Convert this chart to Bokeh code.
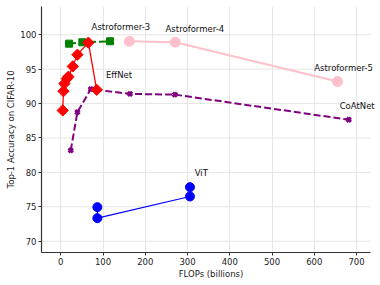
import numpy as np
from bokeh.plotting import figure
from bokeh.models import Range1d, FixedTicker, Label
from bokeh.embed import file_html
from bokeh.resources import INLINE

# ---- data ----
effnet_x = [4.7, 6.3, 8.7, 14.2, 18.0, 28.4, 39.4, 65.4, 85.0]
effnet_y = [89.0, 91.8, 92.9, 93.6, 93.9, 95.4, 97.1, 98.85, 92.0]

astro3_x = [19.7, 51.0, 116.7]
astro3_y = [98.7, 98.9, 99.05]

astro_x = [162.4, 271.0, 655.0]
astro_y = [99.05, 98.9, 93.2]

coat_x = [23.6, 39.4, 71.0, 163.8, 270.0, 681.6]
coat_y = [83.2, 88.75, 92.1, 91.4, 91.3, 87.65]

vit_x = [86.6, 86.6, 305.8, 305.8]
vit_y = [74.95, 73.35, 76.5, 77.85]

labels = ["Astroformer-3", "Astroformer-4", "Astroformer-5", "EffNet", "CoAtNet", "ViT"]
label_x = [73.0, 248.0, 600.0, 107.0, 660.0, 317.0]
label_y = [101.1, 100.8, 95.1, 94.2, 89.7, 79.9]

x_ticks = [0, 100, 200, 300, 400, 500, 600, 700]
y_ticks = [70, 75, 80, 85, 90, 95, 100]

X_LO, X_HI = -45.6, 733.0      # visible axis extent
X_PAD = 23.7                   # room on the right for labels

FONT = "DejaVu Sans"

p = figure(width=380, height=285, output_backend="svg", toolbar_location=None,
           x_range=Range1d(X_LO, X_HI + X_PAD), y_range=Range1d(68.36, 104.1),
           min_border_left=41, min_border_right=0, min_border_top=6, min_border_bottom=33)
p.outline_line_color = None
p.background_fill_color = "white"
p.border_fill_color = "white"

for ax in (p.xaxis[0], p.yaxis[0]):
    ax.axis_line_color = "#333333"
    ax.axis_line_width = 1.2
    ax.major_tick_line_color = "#333333"
    ax.major_tick_out = 3
    ax.major_tick_in = 0
    ax.minor_tick_line_color = None
    ax.major_label_text_font = FONT
    ax.major_label_text_font_size = "8.5px"
    ax.major_label_text_color = "#222222"
    ax.axis_label_text_font = FONT
    ax.axis_label_text_font_size = "8.5px"
    ax.axis_label_text_font_style = "normal"
    ax.axis_label_text_color = "#222222"
    ax.major_label_standoff = 2
    ax.axis_label_standoff = 1

p.xaxis.ticker = FixedTicker(ticks=x_ticks)
p.yaxis.ticker = FixedTicker(ticks=y_ticks)
p.xaxis.bounds = (X_LO, X_HI)
p.xaxis.axis_label = "FLOPs (billions)"
p.yaxis.axis_label = "Top-1 Accuracy on CIFAR-10"
p.xaxis.axis_label_text_align = "center"

p.xgrid.ticker = FixedTicker(ticks=x_ticks)
p.xgrid.grid_line_color = "#e6e6e6"
p.xgrid.grid_line_width = 1
p.ygrid.visible = False
# horizontal grid lines limited to the visible axis extent
p.segment(x0=[X_LO] * len(y_ticks), x1=[X_HI] * len(y_ticks), y0=y_ticks, y1=y_ticks,
          line_color="#e6e6e6", line_width=1, level="underlay")

# ViT
p.line(vit_x, vit_y, line_color="blue", line_width=1.2)
p.scatter(vit_x, vit_y, marker="circle", size=9, fill_color="blue", line_color="blue")

# Astroformer (pink)
p.line(astro_x, astro_y, line_color="pink", line_width=2)
p.scatter(astro_x, astro_y, marker="circle", size=10, fill_color="pink", line_color="pink")

# green dashed
p.line(astro3_x, astro3_y, line_color="green", line_width=2, line_dash="7 3")
p.scatter(astro3_x, astro3_y, marker="square", size=7, fill_color="green", line_color="green")

# CoAtNet purple dashed
p.line(coat_x, coat_y, line_color="purple", line_width=2, line_dash="7 3")
p.scatter(coat_x, coat_y, marker="x", size=6, line_color="purple", line_width=3)

# EffNet red
p.line(effnet_x, effnet_y, line_color="red", line_width=1.3)
p.scatter(effnet_x, effnet_y, marker="square", angle=np.pi / 4, size=8,
          fill_color="red", line_color="red")

for t, lx, ly in zip(labels, label_x, label_y):
    p.add_layout(Label(x=lx, y=ly, text=t, text_font=FONT, text_font_size="8.5px",
                       text_color="#111111", text_align="left", text_baseline="middle"))

open("out.html", "w").write(file_html(p, INLINE))
